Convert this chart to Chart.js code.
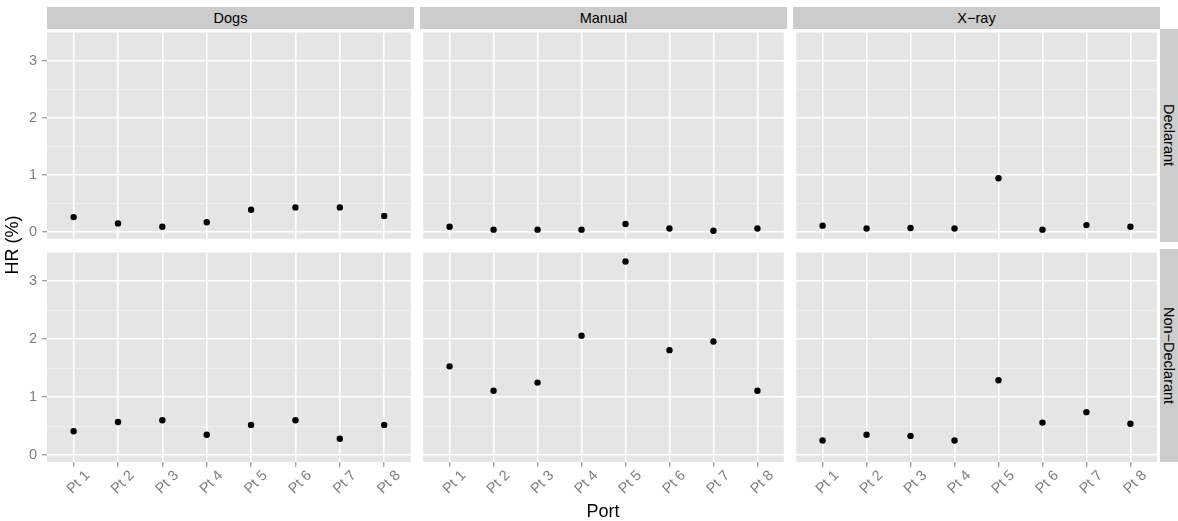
<!DOCTYPE html>
<html>
<head>
<meta charset="utf-8">
<script src="https://cdn.jsdelivr.net/npm/chart.js@4.4.0/dist/chart.umd.min.js"></script>
<style>
  body { margin: 0; background: #fff; }
  #fig { position: relative; width: 1178px; height: 521px; overflow: hidden;
         font-family: "Liberation Sans", Arial, sans-serif; }
  #fig canvas { position: absolute; }
  .strip { position: absolute; background: #CCCCCC; color: #000; font-size: 14.5px;
           display: flex; align-items: center; justify-content: center; }
  .strip.side { writing-mode: vertical-rl; }
  .title { position: absolute; color: #000; font-size: 18px; white-space: nowrap; }
</style>
</head>
<body>
<div id="fig"></div>
<script>
const ports = ["Pt 1", "Pt 2", "Pt 3", "Pt 4", "Pt 5", "Pt 6", "Pt 7", "Pt 8"];
const methods = ["Dogs", "Manual", "X\u2212ray"];
const groups = ["Declarant", "Non\u2212Declarant"];

// HR (%) per port
const dogsDeclarant = [0.26, 0.15, 0.09, 0.17, 0.39, 0.43, 0.43, 0.28];
const manualDeclarant = [0.09, 0.04, 0.04, 0.04, 0.14, 0.06, 0.02, 0.06];
const xrayDeclarant = [0.11, 0.06, 0.07, 0.06, 0.94, 0.04, 0.12, 0.09];
const dogsNonDeclarant = [0.41, 0.57, 0.60, 0.35, 0.52, 0.60, 0.28, 0.52];
const manualNonDeclarant = [1.53, 1.11, 1.25, 2.06, 3.34, 1.81, 1.96, 1.11];
const xrayNonDeclarant = [0.25, 0.35, 0.33, 0.25, 1.29, 0.56, 0.74, 0.54];

const panelValues = [
  [dogsDeclarant, manualDeclarant, xrayDeclarant],
  [dogsNonDeclarant, manualNonDeclarant, xrayNonDeclarant]
];

const FONT = '"Liberation Sans", Arial, sans-serif';
const colLeft = [47, 420, 793];
const rowTop = [29, 249];
const panelW = 367, panelH = 213;
const yAxisW = 47, xAxisH = 50;

const fig = document.getElementById("fig");

function addDiv(cls, css, text) {
  const d = document.createElement("div");
  d.className = cls;
  Object.assign(d.style, css);
  d.textContent = text;
  fig.appendChild(d);
  return d;
}

// grey panel background under the grid
const panelBg = {
  id: "panelBg",
  beforeDraw(chart) {
    const { ctx, chartArea: a } = chart;
    ctx.save();
    ctx.fillStyle = "#E5E5E5";
    ctx.fillRect(a.left, a.top, a.right - a.left, a.bottom - a.top);
    ctx.restore();
  }
};

const isMajor = (ctx) => ctx.tick && Math.abs(ctx.tick.value % 1) < 1e-9;

groups.forEach((group, r) => {
  methods.forEach((method, c) => {
    const first = c === 0;
    const bottom = r === 1;
    const canvas = document.createElement("canvas");
    canvas.width = panelW + (first ? yAxisW : 0);
    canvas.height = panelH + (bottom ? xAxisH : 0);
    canvas.style.left = (colLeft[c] - (first ? yAxisW : 0)) + "px";
    canvas.style.top = rowTop[r] + "px";
    fig.appendChild(canvas);

    new Chart(canvas, {
      type: "scatter",
      data: {
        datasets: [{
          data: panelValues[r][c].map((v, i) => ({ x: i + 1, y: v })),
          backgroundColor: "#000",
          borderWidth: 0,
          pointRadius: 3.2,
          pointHoverRadius: 3.2
        }]
      },
      options: {
        responsive: false,
        animation: false,
        events: [],
        layout: { padding: 0 },
        plugins: { legend: { display: false }, tooltip: { enabled: false } },
        scales: {
          x: {
            type: "linear",
            min: 0.4,
            max: 8.6,
            border: { display: false },
            grid: {
              color: "#FFFFFF",
              lineWidth: 1.6,
              drawTicks: bottom,
              tickLength: 5,
              tickColor: "#7F7F7F",
              tickWidth: 1
            },
            ticks: {
              display: bottom,
              stepSize: 1,
              includeBounds: false,
              autoSkip: false,
              minRotation: 45,
              maxRotation: 45,
              labelOffset: 14,
              padding: 0,
              color: "#7F7F7F",
              font: { family: FONT, size: 14.5 },
              callback: (v) => ports[v - 1]
            },
            afterFit: (s) => {
              s.height = bottom ? xAxisH : 0;
              s.paddingLeft = 0;
              s.paddingRight = 0;
            }
          },
          y: {
            min: -0.12,
            max: 3.5,
            border: { display: false },
            grid: {
              color: (ctx) => isMajor(ctx) ? "#FFFFFF" : "#F2F2F2",
              lineWidth: (ctx) => isMajor(ctx) ? 1.6 : 0.8,
              drawTicks: first,
              tickLength: 5,
              tickColor: (ctx) => isMajor(ctx) ? "#7F7F7F" : "rgba(0,0,0,0)",
              tickWidth: 1
            },
            ticks: {
              display: first,
              stepSize: 0.5,
              includeBounds: false,
              autoSkip: false,
              padding: 5,
              color: "#7F7F7F",
              font: { family: FONT, size: 14.5 },
              callback: (v) => (Math.abs(v % 1) < 1e-9 ? String(v) : "")
            },
            afterFit: (s) => {
              s.width = first ? yAxisW : 0;
              s.paddingTop = 0;
              s.paddingBottom = 0;
            }
          }
        }
      },
      plugins: [panelBg]
    });

    if (r === 0) {
      addDiv("strip", { left: colLeft[c] + "px", top: "7px", width: panelW + "px", height: "22px" }, method);
    }
    if (c === methods.length - 1) {
      addDiv("strip side", { left: (colLeft[c] + panelW) + "px", top: rowTop[r] + "px", width: "18px", height: panelH + "px" }, group);
    }
  });
});

// axis titles
const xt = addDiv("title", { top: "501px", height: "20px", lineHeight: "20px", left: "503px", width: "200px", textAlign: "center" }, "Port");
const yt = addDiv("title", { left: "-88px", top: "235px", width: "200px", height: "20px", lineHeight: "20px",
                             textAlign: "center", transform: "rotate(-90deg)" }, "HR (%)");
</script>
</body>
</html>
